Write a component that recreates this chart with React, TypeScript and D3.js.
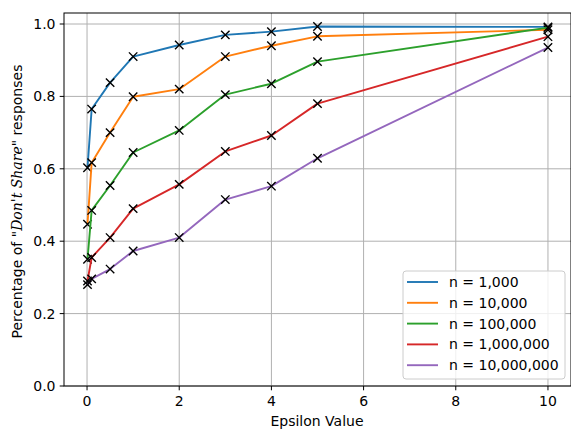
import React from "react";
import * as d3 from "d3";

const epsilons = [0.01, 0.1, 0.5, 1, 2, 3, 4, 5, 10];
const seriesNames = ["n = 1,000", "n = 10,000", "n = 100,000", "n = 1,000,000", "n = 10,000,000"];
const seriesColors = ["#1f77b4", "#ff7f0e", "#2ca02c", "#d62728", "#9467bd"];
const n1k = [0.603, 0.765, 0.838, 0.91, 0.942, 0.97, 0.979, 0.993, 0.992];
const n10k = [0.447, 0.617, 0.70, 0.799, 0.82, 0.91, 0.94, 0.966, 0.984];
const n100k = [0.35, 0.485, 0.554, 0.645, 0.706, 0.805, 0.835, 0.896, 0.99];
const n1m = [0.29, 0.355, 0.41, 0.49, 0.557, 0.648, 0.692, 0.78, 0.965];
const n10m = [0.28, 0.296, 0.323, 0.373, 0.41, 0.515, 0.552, 0.629, 0.935];
const seriesValues = [n1k, n10k, n100k, n1m, n10m];
const xTicks = [0, 2, 4, 6, 8, 10];
const yTicks = [0, 0.2, 0.4, 0.6, 0.8, 1.0];

const W = 571;
const H = 434;
const L = 64, R = 571, T = 13, B = 386;
const FONT = "DejaVu Sans, sans-serif";
const FS = 14;

export default function App() {
  const x = d3.scaleLinear().domain([-0.5, 10.5]).range([L, R]);
  const y = d3.scaleLinear().domain([0, 1.031]).range([B, B - 1.031 * 362]);
  const line = d3
    .line<number>()
    .x((_, i) => x(epsilons[i]))
    .y((d) => y(d));
  const ms = 4.2;

  const legX = 403, legY = 271, legW = 162, legH = 108, rowH = 20.8;

  return (
    <svg
      width={W}
      height={H}
      style={{ position: "absolute", left: 0, top: 0, background: "#fff" }}
      fontFamily={FONT}
    >
      <rect x={0} y={0} width={W} height={H} fill="#fff" />
      {xTicks.map((t) => (
        <line key={"gx" + t} x1={x(t)} x2={x(t)} y1={T} y2={B} stroke="#b0b0b0" strokeWidth={1} />
      ))}
      {yTicks.map((t) => (
        <line key={"gy" + t} x1={L} x2={R} y1={y(t)} y2={y(t)} stroke="#b0b0b0" strokeWidth={1} />
      ))}
      {seriesValues.map((vals, si) => (
        <g key={"s" + si}>
          <path d={line(vals) || ""} fill="none" stroke={seriesColors[si]} strokeWidth={1.9} strokeLinejoin="round" />
          {vals.map((v, i) => {
            const cx = x(epsilons[i]);
            const cy = y(v);
            return (
              <path
                key={i}
                d={`M${cx - ms},${cy - ms}L${cx + ms},${cy + ms}M${cx - ms},${cy + ms}L${cx + ms},${cy - ms}`}
                stroke="#000"
                strokeWidth={1.4}
              />
            );
          })}
        </g>
      ))}
      <rect x={L} y={T} width={R - L} height={B - T} fill="none" stroke="#000" strokeWidth={1} />
      {xTicks.map((t) => (
        <g key={"tx" + t}>
          <line x1={x(t)} x2={x(t)} y1={B} y2={B + 4.3} stroke="#000" strokeWidth={1} />
          <text x={x(t)} y={B + 19.5} textAnchor="middle" fontSize={FS} fill="#000">
            {t}
          </text>
        </g>
      ))}
      {yTicks.map((t) => (
        <g key={"ty" + t}>
          <line x1={L - 4.3} x2={L} y1={y(t)} y2={y(t)} stroke="#000" strokeWidth={1} />
          <text x={L - 8.5} y={y(t) + 5} textAnchor="end" fontSize={FS} fill="#000">
            {t.toFixed(1)}
          </text>
        </g>
      ))}
      <text x={317} y={426} textAnchor="middle" fontSize={FS} fill="#000">
        Epsilon Value
      </text>
      <text
        transform={`translate(22,${(T + B) / 2 + 2}) rotate(-90)`}
        textAnchor="middle"
        fontSize={FS}
        fill="#000"
      >
        Percentage of "
        <tspan fontFamily="DejaVu Serif, serif" fontStyle="italic">
          Don't Share
        </tspan>
        " responses
      </text>
      <rect
        x={legX}
        y={legY}
        width={legW}
        height={legH}
        rx={3}
        fill="#fff"
        fillOpacity={0.8}
        stroke="#cccccc"
        strokeWidth={1}
      />
      {seriesNames.map((name, i) => {
        const cy = legY + 11 + i * rowH;
        return (
          <g key={"lg" + i}>
            <line x1={legX + 4} x2={legX + 35} y1={cy} y2={cy} stroke={seriesColors[i]} strokeWidth={1.9} />
            <text x={legX + 46} y={cy + 5} fontSize={FS} fill="#000">
              {name}
            </text>
          </g>
        );
      })}
    </svg>
  );
}
